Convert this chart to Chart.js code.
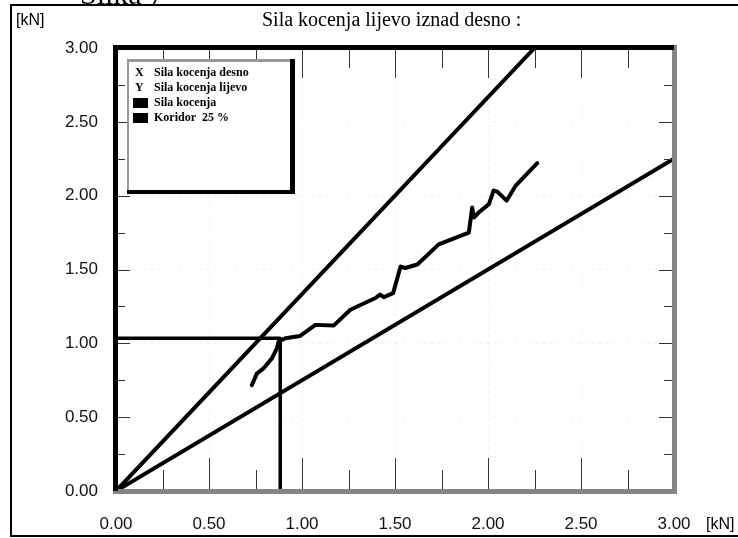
<!DOCTYPE html>
<html lang="bs">
<head>
<meta charset="UTF-8">
<title>Sila kocenja lijevo iznad desno</title>
<script src="https://cdn.jsdelivr.net/npm/chart.js"></script>
<style>
    html, body { margin: 0; padding: 0; background: #fff; }
</style>
</head>
<body>
<canvas id="myChart" width="738" height="538"></canvas>

<script>
    // izmjerena sila kocenja (desno -> X, lijevo -> Y), kN
    const silaDesno = [0.73, 0.757, 0.793, 0.838, 0.865, 0.874, 0.91, 0.99, 1.072, 1.17, 1.26, 1.395, 1.42, 1.44, 1.49,
        1.53, 1.556, 1.62, 1.735, 1.897, 1.915, 1.924, 1.95, 2.005, 2.03, 2.05, 2.1, 2.15, 2.265];
    const silaLijevo = [0.716, 0.795, 0.83, 0.898, 0.966, 1.011, 1.034, 1.05, 1.125, 1.12, 1.227, 1.307, 1.33, 1.313, 1.34,
        1.52, 1.51, 1.534, 1.67, 1.75, 1.92, 1.852, 1.886, 1.943, 2.034, 2.027, 1.966, 2.07, 2.22];

    // koridor 25 %
    const koridorGornjiX = [0, 2.25];
    const koridorGornjiY = [0, 3];
    const koridorDonjiX = [0, 3];
    const koridorDonjiY = [0, 2.25];

    // granicna linija
    const pragX = [0, 0.883, 0.883];
    const pragY = [1.034, 1.034, 0];

    const osMin = 0;
    const osMax = 3;
    const korakOznaka = 0.5;
    const korakCrtica = 0.25;

    const legendaZnak = ['X', 'Y', 'box', 'box'];
    const legendaTekst = ['Sila kocenja desno', 'Sila kocenja lijevo', 'Sila kocenja', 'Koridor  25 %'];

    const naslov = 'Sila kocenja lijevo iznad desno :';
    const slika = 'Slika 7';
    const jedinica = '[kN]';

    function tacke(xs, ys) {
        return xs.map((x, i) => ({x: x, y: ys[i]}));
    }

    function linija(xs, ys, w) {
        return {
            data: tacke(xs, ys),
            showLine: true,
            borderColor: '#000',
            borderWidth: w,
            pointRadius: 0,
            tension: 0,
            borderJoinStyle: 'round',
            borderCapStyle: 'round'
        };
    }

    const okvir = {
        id: 'okvir',
        beforeDraw(chart) {
            const ctx = chart.ctx;
            ctx.save();
            ctx.fillStyle = '#fff';
            ctx.fillRect(0, 0, chart.width, chart.height);

            // vanjski okvir
            ctx.strokeStyle = '#000';
            ctx.lineWidth = 2;
            ctx.beginPath();
            ctx.moveTo(740, 5);
            ctx.lineTo(11, 5);
            ctx.lineTo(11, 536);
            ctx.lineTo(740, 536);
            ctx.stroke();

            ctx.fillStyle = '#000';
            ctx.textBaseline = 'alphabetic';
            ctx.font = '30px "Liberation Serif"';
            ctx.fillText(slika, 80, 4);

            ctx.font = '20px "Liberation Serif"';
            ctx.fillText(naslov, 262, 26);

            ctx.font = '16px "Liberation Sans"';
            ctx.textBaseline = 'middle';
            ctx.fillText(jedinica, 16, 21);
            ctx.fillText(jedinica, 706, 525);
            ctx.restore();
        },
        afterDatasetsDraw(chart) {
            const ctx = chart.ctx;
            const {left: L, right: R, top: T, bottom: B} = chart.chartArea;
            const sx = chart.scales.x, sy = chart.scales.y;
            ctx.save();

            // crtice
            ctx.strokeStyle = '#333';
            ctx.lineWidth = 1;
            for (let v = osMin; v <= osMax + 1e-9; v += korakCrtica) {
                const velika = Math.abs(v / korakOznaka - Math.round(v / korakOznaka)) < 1e-6;
                const px = Math.round(sx.getPixelForValue(v)) + 0.5;
                const py = Math.round(sy.getPixelForValue(v)) + 0.5;
                ctx.beginPath();
                ctx.moveTo(px, B);
                ctx.lineTo(px, B - (velika ? 33 : 21));
                ctx.moveTo(px, T);
                ctx.lineTo(px, T + (velika ? 30 : 20));
                ctx.moveTo(L, py);
                ctx.lineTo(L + (velika ? 14 : 9), py);
                ctx.moveTo(R, py);
                ctx.lineTo(R - (velika ? 15 : 10), py);
                ctx.stroke();
            }

            // okvir grafa
            ctx.fillStyle = '#858585';
            ctx.fillRect(R - 2, T - 3, 5, B - T + 6);
            ctx.fillRect(L - 3, B - 2, R - L + 6, 5);
            ctx.fillStyle = '#000';
            ctx.fillRect(L - 3, T - 3, R - L + 3, 5);
            ctx.fillRect(L - 3, T - 3, 5, B - T + 3);

            // legenda
            const lx = 127, ly = 59, lw = 168, lh = 135;
            ctx.fillStyle = '#fff';
            ctx.fillRect(lx, ly, lw, lh);
            ctx.fillStyle = '#999';
            ctx.fillRect(lx, ly, lw, 3);
            ctx.fillRect(lx, ly, 2, lh);
            ctx.fillStyle = '#000';
            ctx.fillRect(lx + lw - 5, ly, 5, lh);
            ctx.fillRect(lx, ly + lh - 4, lw, 4);

            ctx.font = 'bold 12px "Liberation Serif"';
            ctx.textBaseline = 'middle';
            legendaTekst.forEach((t, i) => {
                const ry = 73 + i * 15;
                if (legendaZnak[i] === 'box') {
                    ctx.fillRect(133, ry - 5, 15, 10);
                } else {
                    ctx.fillText(legendaZnak[i], 135, ry);
                }
                ctx.fillText(t, 154, ry);
            });
            ctx.restore();
        }
    };

    const ctx = document.getElementById('myChart').getContext('2d');

    new Chart(ctx, {
        type: 'scatter',
        data: {
            datasets: [
                linija(koridorGornjiX, koridorGornjiY, 4),
                linija(koridorDonjiX, koridorDonjiY, 4),
                linija(pragX, pragY, 3.5),
                linija(silaDesno, silaLijevo, 4)
            ]
        },
        options: {
            responsive: false,
            animation: false,
            devicePixelRatio: 1,
            layout: {padding: {top: 48, right: 64, bottom: 0, left: 0}},
            plugins: {
                legend: {display: false},
                tooltip: {enabled: false}
            },
            scales: {
                x: {
                    type: 'linear',
                    min: osMin,
                    max: osMax,
                    afterFit: s => { s.height = 47; },
                    border: {display: false, dash: [2, 5]},
                    grid: {color: 'rgba(0,0,0,0.07)', drawTicks: false},
                    ticks: {
                        stepSize: korakOznaka,
                        padding: 23,
                        color: '#111',
                        font: {family: '"Liberation Sans"', size: 17},
                        callback: v => Number(v).toFixed(2)
                    }
                },
                y: {
                    type: 'linear',
                    min: osMin,
                    max: osMax,
                    afterFit: s => { s.width = 116; },
                    border: {display: false, dash: [2, 5]},
                    grid: {color: 'rgba(0,0,0,0.07)', drawTicks: false},
                    ticks: {
                        stepSize: korakOznaka,
                        padding: 18,
                        color: '#111',
                        font: {family: '"Liberation Sans"', size: 17},
                        callback: v => Number(v).toFixed(2)
                    }
                }
            }
        },
        plugins: [okvir]
    });
</script>
</body>
</html>
